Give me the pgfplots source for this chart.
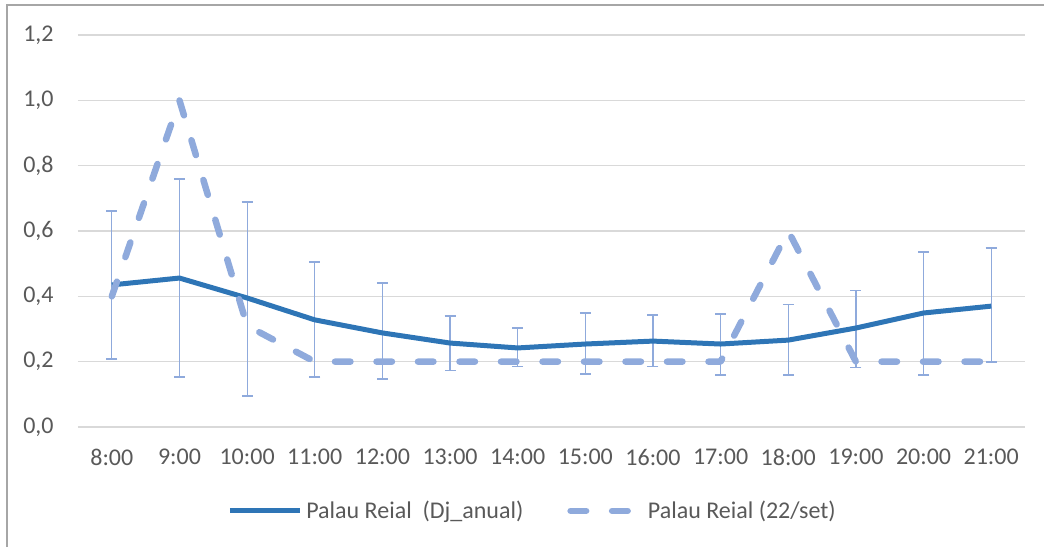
\documentclass[border=0pt]{standalone}
\usepackage{fontspec}
\setmainfont{Carlito}
\usepackage{pgfplots}
\pgfplotsset{compat=1.18}
\usepackage{pgfplotstable}

\definecolor{solidblue}{HTML}{2E75B6}
\definecolor{lightblue}{HTML}{8FAADC}
\definecolor{gridgray}{HTML}{D9D9D9}
\definecolor{textgray}{HTML}{595959}
\definecolor{framegray}{HTML}{A6A6A6}

% x = hour index (0 = 8:00), y, error up, error down
\pgfplotstableread{
x y     yp    ym
0 0.435 0.226 0.227
1 0.456 0.303 0.303
2 0.395 0.294 0.300
3 0.328 0.177 0.175
4 0.288 0.153 0.141
5 0.257 0.083 0.083
6 0.242 0.061 0.058
7 0.254 0.095 0.092
8 0.263 0.080 0.079
9 0.254 0.092 0.095
10 0.266 0.110 0.107
11 0.303 0.116 0.122
12 0.349 0.187 0.190
13 0.370 0.178 0.171
}\anual

\pgfplotstableread{
x y
0 0.40
1 1.00
2 0.31
3 0.20
4 0.20
5 0.20
6 0.20
7 0.20
8 0.20
9 0.20
10 0.60
11 0.20
12 0.20
13 0.20
}\set

\begin{document}
\begin{tikzpicture}
\begin{axis}[
    scale only axis,
    width=473.5pt, height=196pt,
    xmin=-0.5, xmax=13.5,
    ymin=0, ymax=1.2,
    ytick={0,0.2,...,1.2},
    xtick={0,...,13},
    xticklabels={8:00,9:00,10:00,11:00,12:00,13:00,14:00,15:00,16:00,17:00,18:00,19:00,20:00,21:00},
    axis line style={draw=none},
    major tick length=0pt,
    ymajorgrids=true,
    grid style={gridgray, line width=0.75pt},
    tick label style={font=\fontsize{12}{14}\selectfont, text=textgray},
    yticklabel style={inner sep=0pt, xshift=-12pt,
        /pgf/number format/.cd, fixed, fixed zerofill, precision=1, use comma, assume math mode=true},
    xticklabel style={inner sep=0pt, anchor=north, yshift=-11pt},
    legend style={at={(0.481,-0.214)}, anchor=center, draw=none, fill=none,
        legend columns=2, font=\fontsize{12}{14}\selectfont, text=textgray,
        /tikz/every even column/.append style={column sep=20pt},
        cells={anchor=west}},
    legend image code/.code={\draw[#1] (0pt,0pt) -- (35pt,0pt);},
    clip=false,
]
\addplot[draw=none, forget plot,
    error bars/.cd, y dir=both, y explicit,
    error bar style={color=lightblue, line width=0.6pt},
    error mark options={rotate=90, mark size=2.75pt, color=lightblue, line width=0.6pt}]
    table[x=x, y=y, y error plus=yp, y error minus=ym] {\anual};
\addplot[solidblue, line width=2.5pt, line join=round] table[x=x, y=y] {\anual};
\addlegendentry{Palau Reial\ \ (Dj\_anual)}
\addplot[lightblue, line width=3.25pt, line cap=round, line join=round,
    dash pattern=on 7.75pt off 13pt] table[x=x, y=y] {\set};
\addlegendentry{Palau Reial (22/set)}
\end{axis}
\pgfresetboundingbox
\useasboundingbox (-39pt,-60pt) rectangle (483pt,213.5pt);
\draw[framegray, line width=0.75pt] (-35.5pt,-60pt) -- (-35.5pt,211pt) -- (483pt,211pt);
\end{tikzpicture}
\end{document}
